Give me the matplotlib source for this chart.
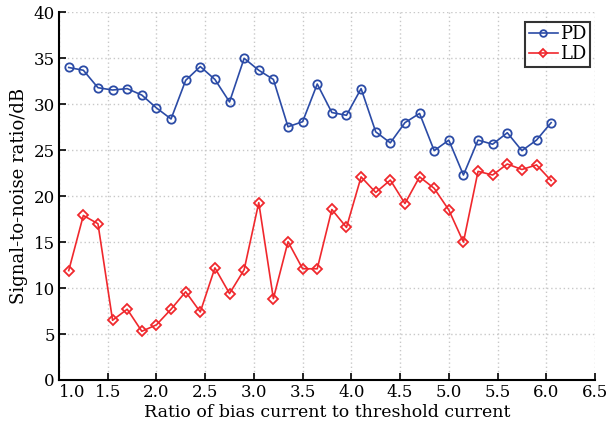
import matplotlib
matplotlib.use("Agg")
import matplotlib.pyplot as plt
import numpy as np

x = [1.10, 1.25, 1.40, 1.55, 1.70, 1.85, 2.00, 2.15, 2.30, 2.45, 2.60, 2.75,
     2.90, 3.05, 3.20, 3.35, 3.50, 3.65, 3.80, 3.95, 4.10, 4.25, 4.40, 4.55,
     4.70, 4.85, 5.00, 5.15, 5.30, 5.45, 5.60, 5.75, 5.90, 6.05]
pd_vals = [34.0, 33.7, 31.8, 31.55, 31.7, 31.0, 29.6, 28.4, 32.6, 34.1, 32.7, 30.25,
           35.0, 33.7, 32.7, 27.55, 28.1, 32.2, 29.1, 28.8, 31.7, 27.0, 25.8, 28.0,
           29.0, 24.95, 26.1, 22.3, 26.1, 25.65, 26.9, 24.95, 26.1, 28.0]
ld_vals = [11.9, 17.9, 17.0, 6.5, 7.7, 5.3, 6.0, 7.7, 9.6, 7.4, 12.2, 9.4,
           12.0, 19.3, 8.85, 15.05, 12.1, 12.1, 18.55, 16.6, 22.1, 20.4, 21.75, 19.2,
           22.1, 20.85, 18.5, 15.0, 22.7, 22.3, 23.5, 22.9, 23.4, 21.7]
xticks = [1.0, 1.5, 2.0, 2.5, 3.0, 3.5, 4.0, 4.5, 5.0, 5.5, 6.0, 6.5]
yticks = [0, 5, 10, 15, 20, 25, 30, 35, 40]

plt.rcParams['font.family'] = ['DejaVu Serif']
plt.rcParams['mathtext.fontset'] = 'dejavuserif'

fig = plt.figure(figsize=(6.08, 4.30), dpi=100)
ax = fig.add_axes([0.097, 0.1163, 0.8816, 0.855])

blue = '#2b4ba6'
red = '#f0282d'
ax.plot(x, pd_vals, color=blue, lw=1.2, marker='o', ms=6, mfc='none', mec=blue, mew=1.3, label='PD')
ax.plot(x, ld_vals, color=red, lw=1.2, marker='D', ms=5.5, mfc='none', mec=red, mew=1.3, label='LD')

ax.set_xlim(1.0, 6.5)
ax.set_ylim(0, 40)
ax.set_xticks(xticks)
ax.set_yticks(yticks)
ax.set_xticklabels([f"{t:.1f}" for t in xticks])
ax.set_yticklabels([str(t) for t in yticks])
for lbl in ax.get_xticklabels()[:1]:
    lbl.set_horizontalalignment('left')

ax.grid(True, color='#c8c8c8', linestyle=(0, (1, 2)), lw=1.0)
ax.spines['top'].set_visible(False)
ax.spines['right'].set_visible(False)
ax.spines['left'].set_linewidth(1.5)
ax.spines['bottom'].set_linewidth(1.5)
ax.tick_params(direction='in', length=5, width=1.2, labelsize=12, pad=3)

ax.set_xlabel('Ratio of bias current to threshold current', fontsize=12.5, labelpad=2)
ax.set_ylabel('Signal-to-noise ratio/dB', fontsize=13, labelpad=4)

leg = ax.legend(loc='upper right', bbox_to_anchor=(0.99, 0.975), fontsize=13, frameon=True,
                fancybox=False, edgecolor='black', handlelength=1.6, handletextpad=0.1,
                borderpad=0.2, labelspacing=0.1, borderaxespad=0.0, markerscale=0.8)
leg.get_frame().set_linewidth(1.5)

fig.savefig('out.png', dpi=100)
